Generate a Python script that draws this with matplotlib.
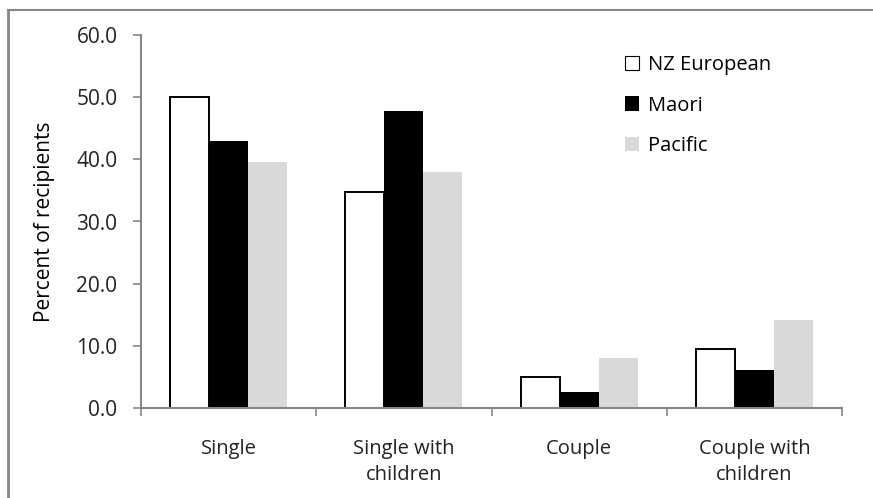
import numpy as np
import matplotlib
matplotlib.use("Agg")
import matplotlib.pyplot as plt
from matplotlib.lines import Line2D
from matplotlib.patches import Patch

categories = ["Single", "Single with\nchildren", "Couple", "Couple with\nchildren"]
nz_european = [50.1, 34.8, 5.0, 9.5]
maori = [43.0, 47.7, 2.6, 6.1]
pacific = [39.6, 37.9, 8.1, 14.2]

plt.rcParams['font.family'] = ['Open Sans', 'DejaVu Sans']
grey = '#868686'

fig = plt.figure(figsize=(8.73, 4.98), dpi=100)
ax = fig.add_axes([141/873, 90/498, 701/873, 373/498])

x = np.arange(len(categories))
w = 0.223
ax.bar(x - w, nz_european, w, color='white', edgecolor='black', linewidth=1.4, label='NZ European')
ax.bar(x, maori, w, color='black', label='Maori')
ax.bar(x + w, pacific, w, color='#d9d9d9', label='Pacific')

ax.set_xlim(-0.5, 3.5)
ax.set_ylim(0, 60)
ax.set_yticks(np.arange(0, 61, 10))
ax.set_yticklabels([f"{v:.1f}" for v in np.arange(0, 61, 10)], fontsize=15, color='#222222')
ax.set_xticks(x)
ax.set_xticklabels(categories, fontsize=14.5, color='#222222', linespacing=1.45)
ax.set_xticks(np.arange(-0.5, 3.6, 1), minor=True)
ax.tick_params(axis='x', which='major', length=0, pad=22)
ax.tick_params(axis='x', which='minor', length=6, color=grey, width=1.2)
ax.tick_params(axis='y', length=6, color=grey, width=1.2, pad=11)

for s in ['top', 'right']:
    ax.spines[s].set_visible(False)
for s in ['left', 'bottom']:
    ax.spines[s].set_color(grey)
    ax.spines[s].set_linewidth(1.5)

ax.set_ylabel("Percent of recipients", fontsize=15, labelpad=15)

handles = [Patch(facecolor='white', edgecolor='black', linewidth=0.8),
           Patch(facecolor='black'),
           Patch(facecolor='#d9d9d9')]
ax.legend(handles, ['NZ European', 'Maori', 'Pacific'], loc='upper left',
          bbox_to_anchor=(0.664, 0.995), frameon=False, fontsize=14.5,
          handlelength=0.7, handleheight=0.7, handletextpad=0.45, labelspacing=1.02)

# outer chart frame (left and top edges visible)
fig.add_artist(Line2D([8/873, 8/873], [0, 1 - 10/498], color=grey, linewidth=2, transform=fig.transFigure))
fig.add_artist(Line2D([8/873, 1], [1 - 10/498, 1 - 10/498], color=grey, linewidth=1.5, transform=fig.transFigure))

fig.savefig("out.png", dpi=100)
